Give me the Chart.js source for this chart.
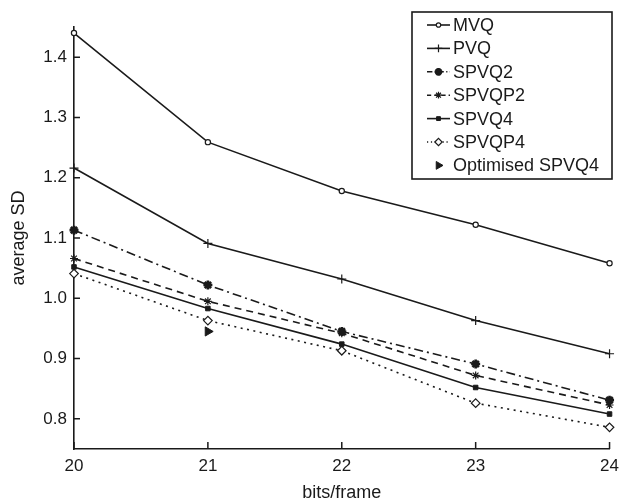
<!DOCTYPE html>
<html>
<head>
<meta charset="utf-8">
<script src="https://cdn.jsdelivr.net/npm/chart.js@4/dist/chart.umd.min.js"></script>
<style>
html,body{margin:0;padding:0;background:#fff;}
#wrap{width:626px;height:504px;}
</style>
</head>
<body>
<div id="wrap"><canvas id="c" width="626" height="504"></canvas></div>
<script>
const bits = [20, 21, 22, 23, 24];
const yTicks = [0.8, 0.9, 1.0, 1.1, 1.2, 1.3, 1.4];
const mvq    = [1.440, 1.259, 1.178, 1.122, 1.058];
const pvq    = [1.216, 1.091, 1.032, 0.963, 0.908];
const spvq2  = [1.113, 1.022, 0.945, 0.891, 0.831];
const spvqp2 = [1.066, 0.995, 0.942, 0.872, 0.823];
const spvq4  = [1.052, 0.983, 0.924, 0.852, 0.808];
const spvqp4 = [1.041, 0.963, 0.913, 0.826, 0.786];
const optBits = [21];
const optSpvq4 = [0.945];

const INK = '#1a1a1a';
const FONT = 'Liberation Sans, Arial, Helvetica, sans-serif';

function pts(xs, ys){ return xs.map((x,i)=>({x:x, y:ys[i]})); }

const series = [
  {label:'MVQ', data:pts(bits,mvq), dash:[], style:'circle', r:2.6, bw:1.2, fill:'#fff', showLine:true},
  {label:'PVQ', data:pts(bits,pvq), dash:[], style:'cross', r:4.5, bw:1.2, fill:INK, showLine:true},
  {label:'SPVQ2', data:pts(bits,spvq2), dash:[9,4,2,4], style:'star', r:4.5, bw:2.6, fill:INK, showLine:true},
  {label:'SPVQP2', data:pts(bits,spvqp2), dash:[7,5], style:'star', r:4, bw:1.2, fill:INK, showLine:true},
  {label:'SPVQ4', data:pts(bits,spvq4), dash:[], style:'rect', r:3.2, bw:1, fill:INK, showLine:true},
  {label:'SPVQP4', data:pts(bits,spvqp4), dash:[2,4.5], style:'rectRot', r:4.3, bw:1.2, fill:'#fff', showLine:true},
  {label:'Optimised SPVQ4', data:pts(optBits,optSpvq4), dash:[], style:'triangle', r:5.3, bw:1, fill:INK, showLine:false, rot:90}
];

const datasets = series.map(s => ({
  label: s.label,
  data: s.data,
  borderColor: INK,
  backgroundColor: s.fill,
  borderWidth: 1.6,
  borderDash: s.dash,
  pointStyle: s.style,
  pointRadius: s.r,
  pointBorderWidth: s.bw,
  pointBorderColor: INK,
  pointBackgroundColor: s.fill,
  pointRotation: s.rot || 0,
  showLine: s.showLine,
  tension: 0,
  clip: false
}));

const innerTicks = {
  id: 'innerTicks',
  afterDraw(chart){
    const ctx = chart.ctx, xs = chart.scales.x, ys = chart.scales.y;
    const a = chart.chartArea;
    ctx.save();
    ctx.strokeStyle = INK; ctx.lineWidth = 1.5; ctx.setLineDash([]);
    ctx.beginPath();
    bits.forEach(v => { const px = xs.getPixelForValue(v); ctx.moveTo(px, a.bottom); ctx.lineTo(px, a.bottom - 7); });
    yTicks.forEach(v => { const py = ys.getPixelForValue(v); ctx.moveTo(a.left, py); ctx.lineTo(a.left + 6, py); });
    ctx.stroke();
    ctx.restore();
  }
};

const boxLegend = {
  id: 'boxLegend',
  afterDraw(chart){
    const ctx = chart.ctx;
    const L = 412, T = 12, R = 612, B = 179;
    ctx.save();
    ctx.fillStyle = '#fff';
    ctx.fillRect(L, T, R-L, B-T);
    ctx.strokeStyle = INK; ctx.lineWidth = 1.6; ctx.setLineDash([]);
    ctx.strokeRect(L, T, R-L, B-T);
    ctx.font = '18px ' + FONT;
    ctx.textBaseline = 'middle';
    ctx.fillStyle = INK;
    series.forEach((s, i) => {
      const y = 25 + i * 23.4;
      if (s.showLine) {
        ctx.save();
        ctx.strokeStyle = INK; ctx.lineWidth = 1.6;
        ctx.setLineDash(s.dash.length ? s.dash.map(d => d * 0.6) : []);
        ctx.beginPath(); ctx.moveTo(427, y); ctx.lineTo(450, y); ctx.stroke();
        ctx.restore();
      }
      ctx.save();
      ctx.strokeStyle = INK; ctx.fillStyle = s.fill; ctx.lineWidth = s.bw; ctx.setLineDash([]);
      Chart.helpers.drawPoint(ctx, {pointStyle: s.style, radius: s.r * 0.85, rotation: s.rot || 0, borderWidth: s.bw}, 438.5, y);
      ctx.restore();
      ctx.fillStyle = INK;
      ctx.fillText(s.label, 453, y + 1);
    });
    ctx.restore();
  }
};

new Chart(document.getElementById('c'), {
  type: 'line',
  data: { datasets },
  options: {
    responsive: false,
    animation: false,
    devicePixelRatio: 1,
    layout: { padding: { top: 27, right: 16, left: 0, bottom: 0 } },
    plugins: { legend: { display: false }, tooltip: { enabled: false } },
    scales: {
      x: {
        type: 'linear', min: 20, max: 24,
        afterBuildTicks(sc){ sc.ticks = bits.map(v => ({value: v})); },
        afterFit(sc){ sc.height = 55; },
        grid: { display: false, drawTicks: false },
        border: { display: true, color: INK, width: 1.6 },
        ticks: { color: INK, font: { family: FONT, size: 17 }, padding: 7, maxRotation: 0 },
        title: { display: true, text: 'bits/frame', color: INK, font: { family: FONT, size: 18 }, padding: { top: 0, bottom: 0 } }
      },
      y: {
        type: 'linear', min: 0.75, max: 1.45,
        afterBuildTicks(sc){ sc.ticks = yTicks.map(v => ({value: v})); },
        afterFit(sc){ sc.width = 74; },
        grid: { display: false, drawTicks: false },
        border: { display: true, color: INK, width: 1.6 },
        ticks: { color: INK, font: { family: FONT, size: 17 }, padding: 7, callback: v => v.toFixed(1) },
        title: { display: true, text: 'average SD', color: INK, font: { family: FONT, size: 18 }, padding: { top: 8, bottom: 0 } }
      }
    }
  },
  plugins: [innerTicks, boxLegend]
});
</script>
</body>
</html>
